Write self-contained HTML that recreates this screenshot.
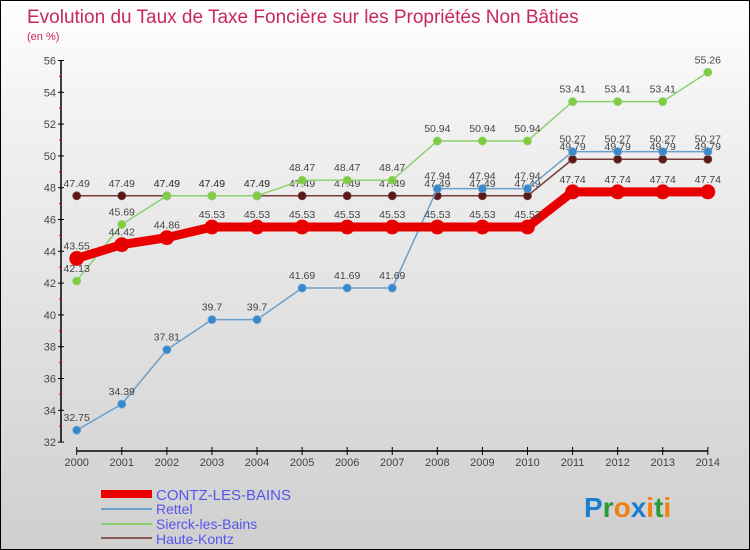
<!DOCTYPE html>
<html><head><meta charset="utf-8"><style>
body{margin:0;}
#c{width:750px;height:550px;position:relative;overflow:hidden;box-sizing:border-box;border:1px solid #000;background:linear-gradient(#fff,#f2f2f2 20%,#cfcfcf);font-family:"Liberation Sans",sans-serif;}
</style></head><body>
<div id="c">
<svg width="750" height="550" style="position:absolute;left:0;top:0" id="svg">
<text x="26" y="22" font-size="19" fill="#c8285a">Evolution du Taux de Taxe Foncière sur les Propriétés Non Bâties</text>
<text x="26" y="39" font-size="11" fill="#c8285a">(en %)</text>
<g id="axes"></g><g id="series"></g>
<g>
<rect x="100" y="489" width="51" height="8" fill="#e00"/>
<text x="155" y="499" font-size="15" fill="#5555ee">CONTZ-LES-BAINS</text>
<rect x="100" y="507" width="51" height="2" fill="#6aa0cc"/>
<text x="155" y="513" font-size="14" fill="#5555ee">Rettel</text>
<rect x="100" y="522" width="51" height="2" fill="#8fd070"/>
<text x="155" y="528" font-size="14" fill="#5555ee">Sierck-les-Bains</text>
<rect x="100" y="536" width="51" height="2" fill="#8a5a5a"/>
<text x="155" y="543" font-size="14" fill="#5555ee">Haute-Kontz</text>
</g>
<text x="583" y="516" font-size="28" font-weight="bold"><tspan fill="#1a7fd0">P</tspan><tspan fill="#2a9a3a">r</tspan><tspan fill="#f08010">o</tspan><tspan fill="#1a7fd0">x</tspan><tspan fill="#f08010">i</tspan><tspan fill="#2a9a3a">t</tspan><tspan fill="#f08010">i</tspan></text>
</svg>
</div>
<script>
const years=[2000,2001,2002,2003,2004,2005,2006,2007,2008,2009,2010,2011,2012,2013,2014];
const yTicks=[32,34,36,38,40,42,44,46,48,50,52,54,56];
const contz=[43.55,44.42,44.86,45.53,45.53,45.53,45.53,45.53,45.53,45.53,45.53,47.74,47.74,47.74,47.74];
const rettel=[32.75,34.39,37.81,39.7,39.7,41.69,41.69,41.69,47.94,47.94,47.94,50.27,50.27,50.27,50.27];
const sierck=[42.13,45.69,47.49,47.49,47.49,48.47,48.47,48.47,50.94,50.94,50.94,53.41,53.41,53.41,55.26];
const haute=[47.49,47.49,47.49,47.49,47.49,47.49,47.49,47.49,47.49,47.49,47.49,49.79,49.79,49.79,49.79];
const NS="http://www.w3.org/2000/svg";
const X=i=>75.7+i*45.08;
const Y=v=>59.5+(56-v)*15.9;
function mk(p,t,a){const e=document.createElementNS(NS,t);for(const k in a)e.setAttribute(k,a[k]);p.appendChild(e);return e;}
const ax=document.getElementById('axes');
let l=mk(ax,'line',{x1:60,y1:Y(56),x2:60,y2:Y(32),stroke:'#000','stroke-width':1.5});


l=mk(ax,'line',{x1:X(0),y1:450,x2:X(14),y2:450,stroke:'#000','stroke-width':1.5});


yTicks.forEach(v=>{
  mk(ax,'line',{x1:57,y1:Y(v),x2:63,y2:Y(v),stroke:'#000'});
  if(v<56) mk(ax,'line',{x1:58,y1:Y(v+1),x2:61,y2:Y(v+1),stroke:'#e00'});
  const t=mk(ax,'text',{x:55,y:Y(v)+4,'font-size':11,'text-anchor':'end',fill:'#444'});
  t.textContent=v;
  
  
});
years.forEach((yr,i)=>{
  mk(ax,'line',{x1:X(i),y1:446,x2:X(i),y2:454,stroke:'#000'});
  const t=mk(ax,'text',{x:X(i),y:465,'font-size':11,'text-anchor':'middle',fill:'#444'});
  t.textContent=yr;
  
  
});
const sg=document.getElementById('series');
function draw(vals,name,color,w,r,dot){
  const g=mk(sg,'g',{});
  
  
  mk(g,'polyline',{points:vals.map((v,i)=>X(i)+','+Y(v)).join(' '),fill:'none',stroke:color,'stroke-width':w,'stroke-linejoin':'round'});
  vals.forEach((v,i)=>{
    const c=mk(g,'circle',{cx:X(i),cy:Y(v),r:r,fill:dot,stroke:color,'stroke-width':0.8});
    
    
    const t=mk(g,'text',{x:X(i),y:Y(v)-9,'font-size':10.5,'text-anchor':'middle',fill:'#444'});
    t.textContent=v;
    
    
  });
}
draw(haute,'haute-kontz','#7a3a3a',1.5,4,'#5a1a1a');
draw(rettel,'rettel','#6aa0cc',1.5,4,'#3a88cc');
draw(sierck,'sierck','#8fd070',1.5,4,'#80cc40');
draw(contz,'contz','#e80000',9,7,'#e80000');
</script>
</body></html>
